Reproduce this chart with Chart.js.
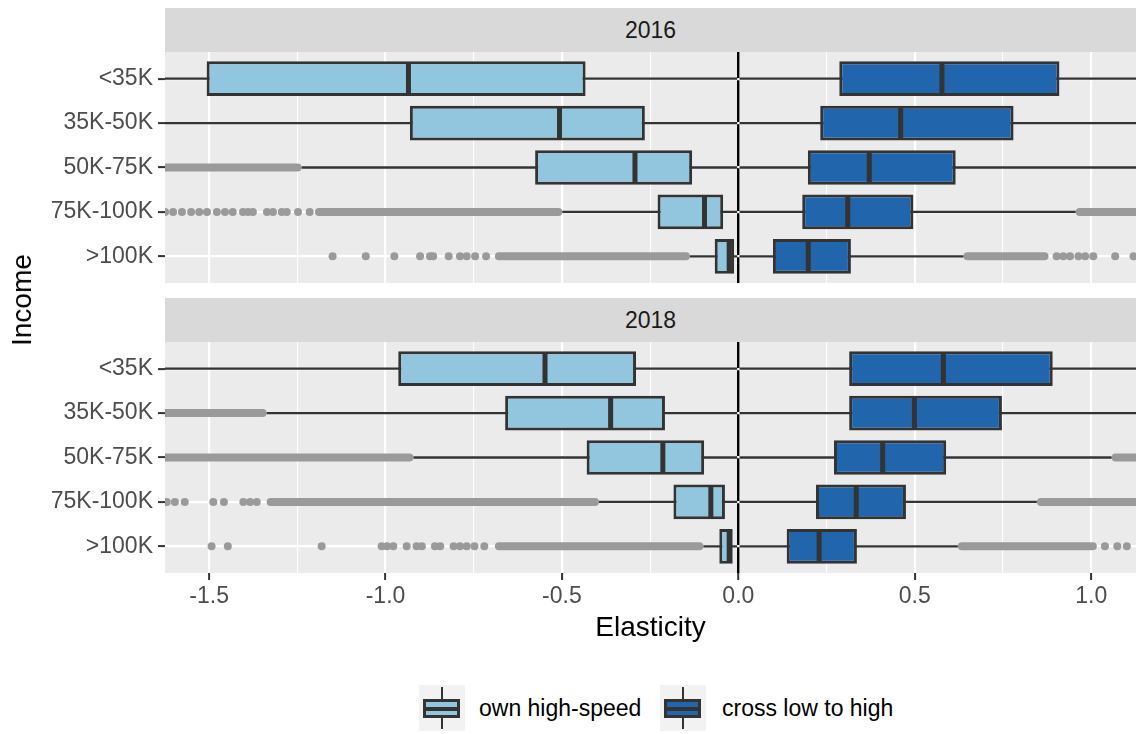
<!DOCTYPE html>
<html>
<head>
<meta charset="utf-8">
<script src="https://cdn.jsdelivr.net/npm/chart.js@4.4.1/dist/chart.umd.min.js"></script>
<style>
  html, body { margin: 0; padding: 0; background: #ffffff; }
  #fig { position: relative; width: 1138px; height: 734px; overflow: hidden;
         font-family: "Liberation Sans", Arial, Helvetica, sans-serif; }
  .panel { position: absolute; left: 0; }
  .strip { position: absolute; left: 165px; width: 971px; height: 44px; background: #d9d9d9;
           color: #1a1a1a; font-size: 23px; line-height: 44px; text-align: center; }
  #ytitle { position: absolute; left: 22px; top: 300px; transform: translate(-50%, -50%) rotate(-90deg);
            font-size: 28px; color: #000; white-space: nowrap; }
  .key { position: absolute; top: 685px; width: 46px; height: 46px; background: #f2f2f2; }
  .key .wh { position: absolute; left: 22px; top: 2px; width: 2px; height: 42px; background: #333; }
  .key .bx { position: absolute; left: 4px; top: 14px; width: 37px; height: 19px; box-sizing: border-box;
             border: 3px solid #333; }
  .key .md { position: absolute; left: 4px; top: 21.5px; width: 37px; height: 4px; background: #333; }
  .ltxt { position: absolute; top: 685px; height: 46px; line-height: 46px; font-size: 23px; color: #000; white-space: nowrap; }
</style>
</head>
<body>
<div id="fig">
  <canvas id="c2016" class="panel" width="1138" height="290" style="top:0px"></canvas>
  <canvas id="c2018" class="panel" width="1138" height="380" style="top:290px"></canvas>
  <div class="strip" style="top:8px">2016</div>
  <div class="strip" style="top:298px">2018</div>
  <div id="ytitle">Income</div>
  <div class="key" style="left:419px"><div class="wh"></div><div class="bx" style="background:#92c5de"></div><div class="md"></div></div>
  <div class="ltxt" style="left:479px">own high-speed</div>
  <div class="key" style="left:660px"><div class="wh"></div><div class="bx" style="background:#2166ac"></div><div class="md"></div></div>
  <div class="ltxt" style="left:722px">cross low to high</div>
</div>
<script>
// Income groups, top to bottom
const incomeGroups = ['<35K', '35K-50K', '50K-75K', '75K-100K', '>100K'];

// Tick values on the elasticity axis (labels only on the half-unit ones)
const xTickValues = [-1.5, -1.25, -1.0, -0.75, -0.5, -0.25, 0.0, 0.25, 0.5, 0.75, 1.0];

// ---- 2016: own high-speed elasticity ----
const own2016Q1     = [-1.507, -0.931, -0.576, -0.229, -0.067];
const own2016Median = [-0.935, -0.507, -0.293, -0.096, -0.026];
const own2016Q3     = [-0.433, -0.265, -0.131, -0.043, -0.012];
const own2016Low    = [-2.200, -1.900, -1.238, -0.499, -0.137];
const own2016High   = [0.000, 0.000, 0.000, 0.000, 0.000];

// ---- 2016: cross elasticity, low to high ----
const cross2016Q1     = [0.286, 0.232, 0.197, 0.181, 0.098];
const cross2016Median = [0.577, 0.460, 0.371, 0.310, 0.198];
const cross2016Q3     = [0.910, 0.780, 0.616, 0.496, 0.319];
const cross2016Low    = [0.000, 0.000, 0.000, 0.000, 0.000];
const cross2016High   = [1.500, 1.300, 1.240, 0.956, 0.638];

// ---- 2018: own high-speed elasticity ----
const own2018Q1     = [-0.964, -0.661, -0.430, -0.184, -0.054];
const own2018Median = [-0.548, -0.362, -0.214, -0.078, -0.026];
const own2018Q3     = [-0.290, -0.208, -0.097, -0.038, -0.016];
const own2018Low    = [-1.975, -1.337, -0.921, -0.395, -0.099];
const own2018High   = [0.000, 0.000, 0.000, 0.000, 0.000];

// ---- 2018: cross elasticity, low to high ----
const cross2018Q1     = [0.314, 0.314, 0.271, 0.220, 0.137];
const cross2018Median = [0.581, 0.499, 0.409, 0.334, 0.229];
const cross2018Q3     = [0.891, 0.747, 0.589, 0.475, 0.336];
const cross2018Low    = [0.000, 0.000, 0.000, 0.000, 0.000];
const cross2018High   = [1.750, 1.400, 1.058, 0.846, 0.622];

// Runs of densely packed outliers: [income group index, from, to]
const outlierRuns2016 = [
  [2, -1.900, -1.238],
  [3, -1.200, -0.499],
  [4, -0.690, -0.137],
  [3, 0.956, 1.400],
  [4, 0.638, 0.879]
];
const outlierRuns2018 = [
  [1, -1.900, -1.337],
  [2, -1.900, -0.921],
  [3, -1.337, -0.395],
  [4, -0.690, -0.099],
  [2, 1.058, 1.400],
  [3, 0.846, 1.400],
  [4, 0.622, 1.016]
];

// Isolated outliers, one list per income group
const outliers2016 = [
  [],
  [],
  [],
  [-1.625, -1.602, -1.577, -1.551, -1.528, -1.506, -1.478, -1.455, -1.433, -1.404, -1.390, -1.376,
   -1.336, -1.319, -1.294, -1.280, -1.248, -1.215],
  [-1.150, -1.056, -0.975, -0.902, -0.874, -0.865, -0.821, -0.789, -0.770, -0.746, -0.715,
   0.902, 0.921, 0.940, 0.964, 0.983, 1.006, 1.068, 1.120]
];
const outliers2018 = [
  [],
  [],
  [],
  [-1.620, -1.597, -1.569, -1.488, -1.458, -1.403, -1.384, -1.365],
  [-1.493, -1.447, -1.181, -1.011, -0.996, -0.978, -0.940, -0.912, -0.897, -0.860, -0.845,
   -0.807, -0.789, -0.770, -0.748, -0.720,
   1.039, 1.074, 1.101]
];

const lightFill = '#92c5de';
const darkFill = '#2166ac';
const ink = '#333333';
const outlierGrey = '#9a9a9a';

Chart.defaults.font.family = '"Liberation Sans", Arial, Helvetica, sans-serif';

const rangeData = (a, b) => a.map((v, i) => ({ x: [v, b[i]], y: i }));
const pointData = (vals) => vals.map((v, i) => ({ x: v, y: i }));
const runData = (runs) => runs.map(r => ({ x: [r[1], r[2]], y: r[0] }));
const outlierData = (groups) => groups.flatMap((vals, i) => vals.map(v => ({ x: v, y: i })));

function buildDatasets(own, cross, runs, outliers) {
  const box = (q1, q3, fill) => ({
    type: 'bar', data: rangeData(q1, q3), backgroundColor: fill, borderColor: ink,
    borderWidth: 3, borderSkipped: false, grouped: false,
    categoryPercentage: 1, barPercentage: 0.78, clip: 0, order: 2
  });
  const whisker = (lo, hi) => ({
    type: 'bar', data: rangeData(lo, hi), backgroundColor: ink, borderWidth: 0,
    grouped: false, maxBarThickness: 2.4, clip: 0, order: 3
  });
  return [
    {
      type: 'scatter', data: [...pointData(own.median), ...pointData(cross.median)],
      pointStyle: 'line', pointRotation: 90, pointRadius: 16.5, pointBorderWidth: 5,
      pointBorderColor: ink, pointBackgroundColor: ink, showLine: false, clip: 0, order: 1
    },
    box(own.q1, own.q3, lightFill),
    box(cross.q1, cross.q3, darkFill),
    whisker(own.low, own.high),
    whisker(cross.low, cross.high),
    {
      type: 'bar', data: runData(runs), backgroundColor: outlierGrey, borderWidth: 0,
      borderRadius: 4, borderSkipped: false, grouped: false, maxBarThickness: 8, clip: 0, order: 4
    },
    {
      type: 'scatter', data: outlierData(outliers), pointRadius: 4, pointBorderWidth: 0,
      pointBackgroundColor: outlierGrey, showLine: false, clip: 0, order: 5
    }
  ];
}

const isMajor = (v) => Math.abs(v * 2 - Math.round(v * 2)) < 1e-9;

function xScale(withLabels) {
  return {
    type: 'linear', min: -1.625, max: 1.127, offset: false,
    afterBuildTicks: (s) => { s.ticks = xTickValues.map(v => ({ value: v })); },
    afterFit: (s) => {
      s.height = withLabels ? 72 : 0;
      s.paddingLeft = 0; s.paddingRight = 0;
    },
    border: { display: false },
    grid: {
      offset: false,
      color: (c) => (c.tick && c.tick.value === 0 ? '#000000' : '#ffffff'),
      lineWidth: (c) => (c.tick && c.tick.value === 0 ? 2.4 : (c.tick && isMajor(c.tick.value) ? 2.2 : 1.1)),
      drawTicks: withLabels,
      tickLength: 7,
      tickWidth: 2,
      tickColor: (c) => (c.tick && isMajor(c.tick.value) ? ink : 'rgba(0,0,0,0)')
    },
    ticks: {
      display: withLabels, autoSkip: false, maxRotation: 0, minRotation: 0,
      padding: 3, color: '#4d4d4d', font: { size: 23 },
      callback: (v) => (isMajor(v) ? v.toFixed(1) : '')
    },
    title: {
      display: withLabels, text: 'Elasticity', color: '#000000',
      font: { size: 28 }, padding: 0
    }
  };
}

const yScale = {
  type: 'linear', reverse: true, min: -0.6, max: 4.6, offset: false,
  afterBuildTicks: (s) => { s.ticks = incomeGroups.map((_, i) => ({ value: i })); },
  afterFit: (s) => { s.width = 165; s.paddingTop = 0; s.paddingBottom = 0; },
  border: { display: false },
  grid: { offset: false, color: '#ffffff', lineWidth: 2.2, tickColor: ink, tickWidth: 2, tickLength: 7 },
  ticks: {
    autoSkip: false, padding: 5, color: '#4d4d4d', font: { size: 23 },
    callback: (v) => incomeGroups[v]
  }
};

// Grey panel background behind the grid
const panelBackground = {
  id: 'panelBackground',
  beforeDraw(chart) {
    const a = chart.chartArea, ctx = chart.ctx;
    ctx.save();
    ctx.fillStyle = '#ebebeb';
    ctx.fillRect(a.left, a.top, a.right - a.left, a.bottom - a.top);
    ctx.restore();
  }
};

function makeChart(id, datasets, withAxis, bottomPad) {
  return new Chart(document.getElementById(id), {
    type: 'bar',
    data: { datasets },
    options: {
      indexAxis: 'y',
      responsive: false,
      animation: false,
      events: [],
      layout: { autoPadding: false, padding: { top: 52, right: 2, bottom: bottomPad, left: 0 } },
      plugins: { legend: { display: false }, tooltip: { enabled: false } },
      scales: { x: xScale(withAxis), y: yScale }
    },
    plugins: [panelBackground]
  });
}

makeChart('c2016', buildDatasets(
  { q1: own2016Q1, median: own2016Median, q3: own2016Q3, low: own2016Low, high: own2016High },
  { q1: cross2016Q1, median: cross2016Median, q3: cross2016Q3, low: cross2016Low, high: cross2016High },
  outlierRuns2016, outliers2016), false, 7);

makeChart('c2018', buildDatasets(
  { q1: own2018Q1, median: own2018Median, q3: own2018Q3, low: own2018Low, high: own2018High },
  { q1: cross2018Q1, median: cross2018Median, q3: cross2018Q3, low: cross2018Low, high: cross2018High },
  outlierRuns2018, outliers2018), true, 25);
</script>
</body>
</html>
